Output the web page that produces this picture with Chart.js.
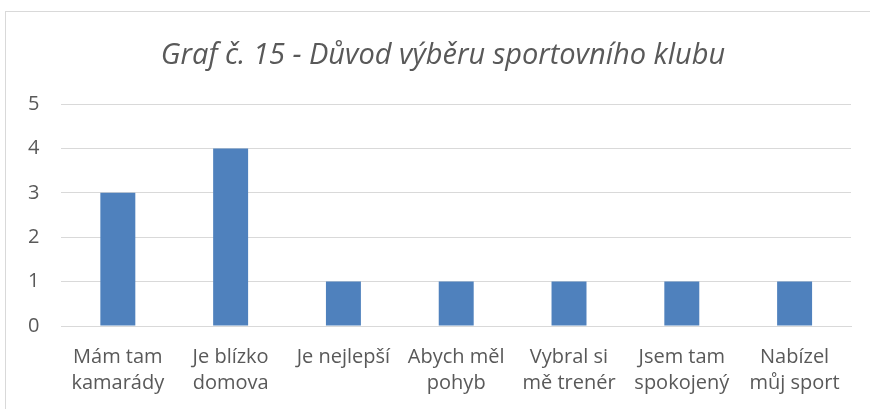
<!DOCTYPE html>
<html>
<head>
<meta charset="utf-8">
<script src="https://cdn.jsdelivr.net/npm/chart.js@4/dist/chart.umd.min.js"></script>
<style>
  html, body { margin: 0; padding: 0; background: #fff; }
  #wrap { position: relative; width: 870px; height: 409px; overflow: hidden; }
  #frame { position: absolute; left: 5px; top: 11px; width: 900px; height: 420px; border: 1px solid #d9d9d9; box-sizing: border-box; }
  canvas { position: absolute; left: 0; top: 0; }
</style>
</head>
<body>
<div id="wrap">
  <div id="frame"></div>
  <canvas id="graf" width="870" height="409"></canvas>
</div>
<script>
// data z grafu
const kategorie = [
    ['Mám tam', 'kamarády'],
    ['Je blízko', 'domova'],
    'Je nejlepší',
    ['Abych měl', 'pohyb'],
    ['Vybral si', 'mě trenér'],
    ['Jsem tam', 'spokojený'],
    ['Nabízel', 'můj sport']
];
const pocty = [3, 4, 1, 1, 1, 1, 1];
const osaY = [0, 1, 2, 3, 4, 5];
const nadpis = 'Graf č. 15 - Důvod výběru sportovního klubu';

const pismo = "'Open Sans', 'Liberation Sans', sans-serif";

// nadpis kreslime sami, aby byl na stredu ramecku a ne plochy grafu
const nadpisPlugin = {
    id: 'nadpis',
    afterDraw(chart) {
        const ctx = chart.ctx;
        ctx.save();
        ctx.font = 'italic 29px ' + pismo;
        ctx.fillStyle = '#595959';
        ctx.textAlign = 'center';
        ctx.textBaseline = 'middle';
        ctx.fillText(nadpis, 443, 56);
        ctx.restore();
    }
};

new Chart(document.getElementById('graf').getContext('2d'), {
    type: 'bar',
    data: {
        labels: kategorie,
        datasets: [{
            label: 'Počet',
            data: pocty,
            backgroundColor: '#4f81bd',
            categoryPercentage: 1,
            barPercentage: 0.31
        }]
    },
    plugins: [nadpisPlugin],
    options: {
        responsive: false,
        animation: false,
        layout: { padding: { left: 6, right: 19, top: 104, bottom: 3 } },
        plugins: {
            legend: { display: false },
            tooltip: { enabled: false },
            title: { display: false }
        },
        scales: {
            x: {
                grid: { display: false },
                border: { color: '#d9d9d9', width: 1 },
                ticks: {
                    color: '#595959',
                    font: { family: pismo, size: 20, lineHeight: 1.3 },
                    maxRotation: 0,
                    autoSkip: false,
                    padding: 10
                }
            },
            y: {
                min: 0,
                max: 5,
                afterBuildTicks: function(axis) {
                    axis.ticks = osaY.map(v => ({ value: v }));
                },
                grid: { color: '#d9d9d9', drawTicks: false },
                border: { display: false },
                ticks: {
                    color: '#595959',
                    font: { family: pismo, size: 20 },
                    padding: 22
                }
            }
        }
    }
});
</script>
</body>
</html>
